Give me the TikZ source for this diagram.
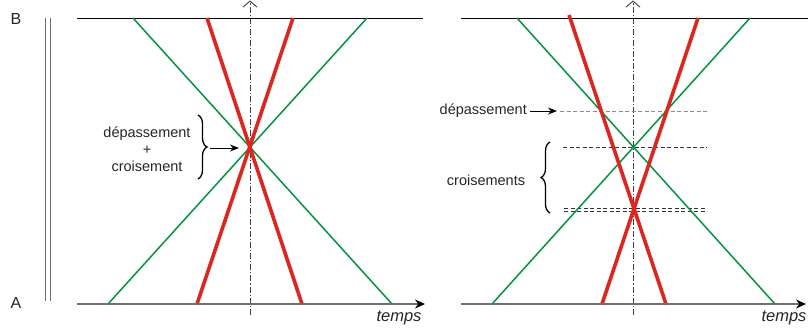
\documentclass[tikz,border=0pt]{standalone}
\usepackage{fontspec}
\setmainfont{Liberation Sans}
\usetikzlibrary{arrows.meta,decorations.pathreplacing}
\definecolor{myred}{RGB}{222,38,30}
\definecolor{mygreen}{RGB}{0,150,64}
\definecolor{axisgray}{RGB}{110,110,110}
\begin{document}
\begin{tikzpicture}[x=1pt,y=-1pt,
  redline/.style={myred,line width=3.6pt},
  greenline/.style={mygreen,line width=1.5pt},
  topline/.style={black,line width=1pt},
  timeaxis/.style={axisgray,line width=1.5pt,-{Stealth[black,length=10pt,width=9pt]}},
  midaxis/.style={black!75,line width=0.9pt,dash pattern=on 6pt off 2pt on 1.2pt off 2pt,-{Straight Barb[length=6pt,width=14pt,line width=0.9pt]}},
  lbl/.style={font=\fontsize{14.5}{17}\selectfont,inner sep=0pt,text=black!85},
  dashgray/.style={black!45,line width=1pt,dash pattern=on 4pt off 2.5pt},
  dashblack/.style={black!80,line width=1pt,dash pattern=on 4pt off 2.5pt},
  bracestyle/.style={decorate,decoration={brace,amplitude=9pt},line width=1.3pt,black},
  ptr/.style={black,line width=1pt,-{Stealth[length=9pt,width=7pt]}}
]
\useasboundingbox (0,0) rectangle (808,327);

% labels A, B and double lines
\node[lbl,font=\fontsize{16}{18}\selectfont] (B) at (16,19) {B};
\node[lbl,font=\fontsize{16}{18}\selectfont] (A) at (16,303) {A};
\coordinate (v1t) at (45,18); \coordinate (v1b) at (45,301);
\coordinate (v2t) at (50.5,18); \coordinate (v2b) at (50.5,301);
\draw[axisgray,line width=1pt] (v1t) -- (v1b);
\draw[axisgray,line width=1pt] (v2t) -- (v2b);

% ===== left panel =====
\coordinate (Ltl) at (77,18); \coordinate (Ltr) at (423,18);
\coordinate (Lbl) at (77,304); \coordinate (Lbr) at (425,304);
\coordinate (Lax0) at (250,315); \coordinate (Lax1) at (250,0.5);
\draw[topline] (Ltl) -- (Ltr);
\draw[midaxis] (Lax0) -- (Lax1);
\coordinate (Lg1t) at (133,18); \coordinate (Lg1b) at (392,304);
\coordinate (Lg2t) at (367,18); \coordinate (Lg2b) at (108,304);
\coordinate (Lr1t) at (207,18); \coordinate (Lr1b) at (302,304);
\coordinate (Lr2t) at (293,18); \coordinate (Lr2b) at (197,304);
\draw[greenline] (Lg1t) -- (Lg1b);
\draw[greenline] (Lg2t) -- (Lg2b);
\draw[redline] (Lr1t) -- (Lr1b);
\draw[redline] (Lr2t) -- (Lr2b);
\draw[timeaxis] (Lbl) -- (Lbr);
\node[lbl,font=\itshape\fontsize{16.5}{18}\selectfont] (Ltemps) at (399,318) {temps};

\node[lbl,align=center] (Llab) at (147,149) {dépassement\\+\\croisement};
\coordinate (Lbr1) at (198,115); \coordinate (Lbr2) at (198,179);
\draw[bracestyle] (Lbr1) -- (Lbr2);
\coordinate (Lpa) at (210,148); \coordinate (Lpb) at (239,148);
\draw[ptr] (Lpa) -- (Lpb);

% ===== right panel =====
\coordinate (Rtl) at (461,18); \coordinate (Rtr) at (808,18);
\coordinate (Rbl) at (461,304); \coordinate (Rbr) at (806,304);
\coordinate (Rax0) at (633,315); \coordinate (Rax1) at (633,0.5);
\draw[topline] (Rtl) -- (Rtr);
\draw[midaxis] (Rax0) -- (Rax1);
% dashed reference lines
\coordinate (Rd1a) at (560,111); \coordinate (Rd1b) at (707,111);
\coordinate (Rd2a) at (563,147); \coordinate (Rd2b) at (707,147);
\coordinate (Rd3a) at (564,208); \coordinate (Rd3b) at (707,208);
\coordinate (Rd4a) at (564,211.5); \coordinate (Rd4b) at (707,211.5);
\draw[dashgray] (Rd1a) -- (Rd1b);
\draw[dashblack] (Rd2a) -- (Rd2b);
\draw[dashblack] (Rd3a) -- (Rd3b);
\draw[dashblack] (Rd4a) -- (Rd4b);
\coordinate (Rg1t) at (517,18); \coordinate (Rg1b) at (775,304);
\coordinate (Rg2t) at (750,18); \coordinate (Rg2b) at (492,304);
\coordinate (Rr1t) at (569,15); \coordinate (Rr1b) at (666,304);
\coordinate (Rr2t) at (698,18); \coordinate (Rr2b) at (602,304);
\draw[greenline] (Rg1t) -- (Rg1b);
\draw[greenline] (Rg2t) -- (Rg2b);
\draw[redline] (Rr1t) -- (Rr1b);
\draw[redline] (Rr2t) -- (Rr2b);
\draw[timeaxis] (Rbl) -- (Rbr);
\node[lbl,font=\itshape\fontsize{16.5}{18}\selectfont] (Rtemps) at (784,318) {temps};

\node[lbl,anchor=east] (Rdep) at (527,111) {dépassement};
\coordinate (Rpb) at (557,111);
\draw[ptr] (Rdep.east) ++(3,0) coordinate (Rpa) (Rpa) -- (Rpb);
\node[lbl] (Rcrois) at (486,180) {croisements};
\coordinate (Rbr1) at (550,213); \coordinate (Rbr2) at (550,142);
\draw[bracestyle] (Rbr1) -- (Rbr2);
\end{tikzpicture}
\end{document}
